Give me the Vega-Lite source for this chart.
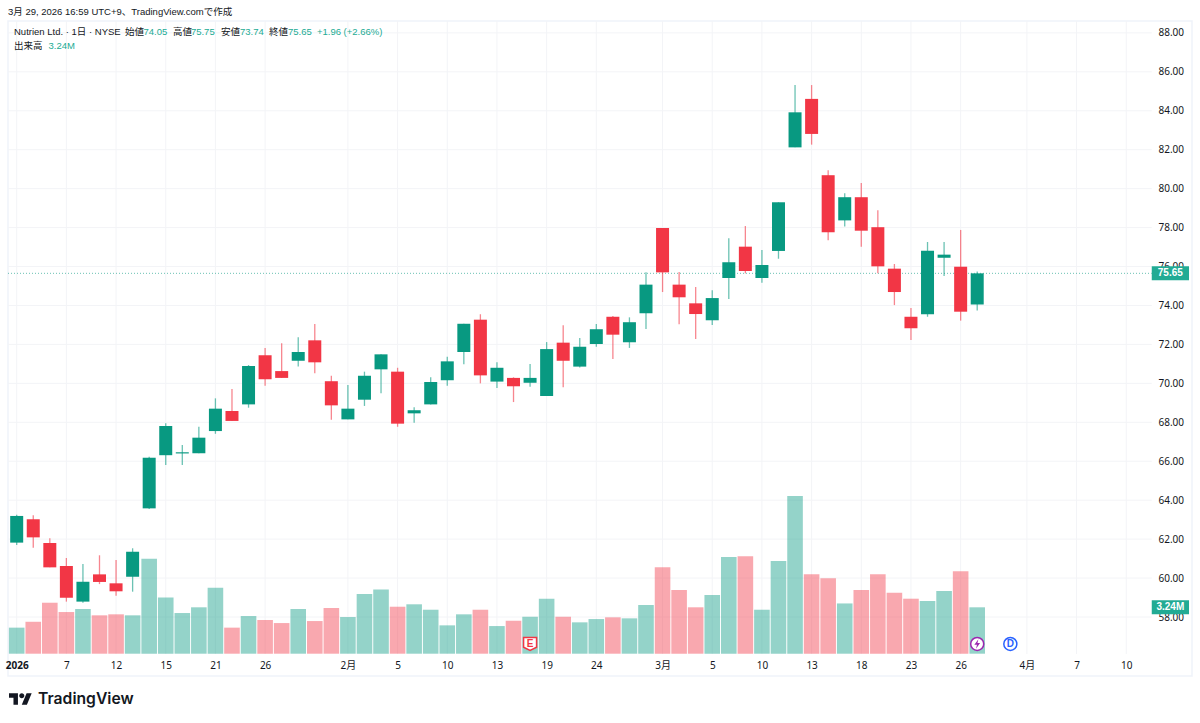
{
  "$schema": "https://vega.github.io/schema/vega-lite/v6.json",
  "autosize": "none",
  "width": 1184,
  "height": 655,
  "padding": {"left": 8, "top": 21, "right": 8, "bottom": 47},
  "background": "#ffffff",
  "config": {
    "font": "Liberation Sans, Noto Sans CJK JP",
    "view": {"stroke": "#f0f3fa", "strokeWidth": 1.5}
  },
  "title": {
    "text": "3月 29, 2026 16:59 UTC+9、TradingView.comで作成",
    "anchor": "start",
    "frame": "group",
    "fontSize": 9.5,
    "fontWeight": "normal",
    "color": "#131722",
    "offset": 4
  },
  "datasets": {
    "candles": [
      {"date": "2026-01-02", "idx": 0, "open": 61.82, "high": 63.25, "low": 61.70, "close": 63.19, "volume": 1.82},
      {"date": "2026-01-05", "idx": 1, "open": 63.02, "high": 63.22, "low": 61.56, "close": 62.09, "volume": 2.23},
      {"date": "2026-01-06", "idx": 2, "open": 61.80, "high": 62.04, "low": 60.55, "close": 60.55, "volume": 3.56},
      {"date": "2026-01-07", "idx": 3, "open": 60.62, "high": 61.03, "low": 58.79, "close": 58.99, "volume": 2.91},
      {"date": "2026-01-08", "idx": 4, "open": 58.79, "high": 60.72, "low": 58.73, "close": 59.81, "volume": 3.12},
      {"date": "2026-01-09", "idx": 5, "open": 60.19, "high": 61.17, "low": 59.69, "close": 59.80, "volume": 2.68},
      {"date": "2026-01-12", "idx": 6, "open": 59.73, "high": 60.93, "low": 59.09, "close": 59.32, "volume": 2.75},
      {"date": "2026-01-13", "idx": 7, "open": 60.07, "high": 61.53, "low": 59.30, "close": 61.35, "volume": 2.68},
      {"date": "2026-01-14", "idx": 8, "open": 63.58, "high": 66.23, "low": 63.55, "close": 66.18, "volume": 6.63},
      {"date": "2026-01-15", "idx": 9, "open": 66.31, "high": 67.95, "low": 65.81, "close": 67.81, "volume": 3.93},
      {"date": "2026-01-16", "idx": 10, "open": 66.40, "high": 66.83, "low": 65.81, "close": 66.46, "volume": 2.84},
      {"date": "2026-01-20", "idx": 11, "open": 66.41, "high": 67.77, "low": 66.41, "close": 67.21, "volume": 3.24},
      {"date": "2026-01-21", "idx": 12, "open": 67.55, "high": 69.23, "low": 67.41, "close": 68.70, "volume": 4.61},
      {"date": "2026-01-22", "idx": 13, "open": 68.58, "high": 69.71, "low": 68.07, "close": 68.07, "volume": 1.82},
      {"date": "2026-01-23", "idx": 14, "open": 68.92, "high": 70.94, "low": 68.75, "close": 70.89, "volume": 2.63},
      {"date": "2026-01-26", "idx": 15, "open": 71.44, "high": 71.82, "low": 69.88, "close": 70.21, "volume": 2.35},
      {"date": "2026-01-27", "idx": 16, "open": 70.63, "high": 72.06, "low": 70.28, "close": 70.28, "volume": 2.14},
      {"date": "2026-01-28", "idx": 17, "open": 71.16, "high": 72.37, "low": 70.86, "close": 71.61, "volume": 3.12},
      {"date": "2026-01-29", "idx": 18, "open": 72.21, "high": 73.05, "low": 70.52, "close": 71.08, "volume": 2.28},
      {"date": "2026-01-30", "idx": 19, "open": 70.11, "high": 70.39, "low": 68.13, "close": 68.87, "volume": 3.19},
      {"date": "2026-02-02", "idx": 20, "open": 68.15, "high": 69.92, "low": 68.15, "close": 68.70, "volume": 2.56},
      {"date": "2026-02-03", "idx": 21, "open": 69.16, "high": 70.60, "low": 68.84, "close": 70.39, "volume": 4.17},
      {"date": "2026-02-04", "idx": 22, "open": 70.72, "high": 71.49, "low": 69.49, "close": 71.49, "volume": 4.49},
      {"date": "2026-02-05", "idx": 23, "open": 70.60, "high": 70.80, "low": 67.77, "close": 67.93, "volume": 3.28},
      {"date": "2026-02-06", "idx": 24, "open": 68.46, "high": 68.77, "low": 67.98, "close": 68.62, "volume": 3.45},
      {"date": "2026-02-09", "idx": 25, "open": 68.92, "high": 70.31, "low": 68.92, "close": 70.07, "volume": 3.07},
      {"date": "2026-02-10", "idx": 26, "open": 70.16, "high": 71.37, "low": 69.88, "close": 71.13, "volume": 1.98},
      {"date": "2026-02-11", "idx": 27, "open": 71.61, "high": 73.06, "low": 70.98, "close": 73.06, "volume": 2.75},
      {"date": "2026-02-12", "idx": 28, "open": 73.27, "high": 73.55, "low": 70.00, "close": 70.41, "volume": 3.07},
      {"date": "2026-02-13", "idx": 29, "open": 70.09, "high": 71.08, "low": 69.76, "close": 70.80, "volume": 1.93},
      {"date": "2026-02-17", "idx": 30, "open": 70.28, "high": 70.31, "low": 69.04, "close": 69.85, "volume": 2.30},
      {"date": "2026-02-18", "idx": 31, "open": 70.03, "high": 70.99, "low": 69.83, "close": 70.28, "volume": 2.58},
      {"date": "2026-02-19", "idx": 32, "open": 69.35, "high": 72.12, "low": 69.35, "close": 71.76, "volume": 3.84},
      {"date": "2026-02-20", "idx": 33, "open": 72.09, "high": 72.98, "low": 69.80, "close": 71.16, "volume": 2.58},
      {"date": "2026-02-23", "idx": 34, "open": 70.86, "high": 72.33, "low": 70.82, "close": 71.88, "volume": 2.19},
      {"date": "2026-02-24", "idx": 35, "open": 72.02, "high": 73.05, "low": 71.88, "close": 72.78, "volume": 2.42},
      {"date": "2026-02-25", "idx": 36, "open": 73.42, "high": 73.46, "low": 71.25, "close": 72.50, "volume": 2.54},
      {"date": "2026-02-26", "idx": 37, "open": 72.11, "high": 73.39, "low": 71.82, "close": 73.14, "volume": 2.47},
      {"date": "2026-02-27", "idx": 38, "open": 73.60, "high": 75.70, "low": 72.79, "close": 75.07, "volume": 3.40},
      {"date": "2026-03-02", "idx": 39, "open": 77.98, "high": 77.98, "low": 74.69, "close": 75.70, "volume": 6.03},
      {"date": "2026-03-03", "idx": 40, "open": 75.07, "high": 75.72, "low": 73.03, "close": 74.42, "volume": 4.45},
      {"date": "2026-03-04", "idx": 41, "open": 74.11, "high": 74.95, "low": 72.28, "close": 73.56, "volume": 3.24},
      {"date": "2026-03-05", "idx": 42, "open": 73.24, "high": 74.78, "low": 73.00, "close": 74.38, "volume": 4.10},
      {"date": "2026-03-06", "idx": 43, "open": 75.41, "high": 77.45, "low": 74.33, "close": 76.22, "volume": 6.75},
      {"date": "2026-03-09", "idx": 44, "open": 77.02, "high": 78.08, "low": 75.65, "close": 75.77, "volume": 6.80},
      {"date": "2026-03-10", "idx": 45, "open": 75.41, "high": 76.85, "low": 75.17, "close": 76.08, "volume": 3.07},
      {"date": "2026-03-11", "idx": 46, "open": 76.80, "high": 79.30, "low": 76.40, "close": 79.30, "volume": 6.47},
      {"date": "2026-03-12", "idx": 47, "open": 82.12, "high": 85.32, "low": 82.12, "close": 83.92, "volume": 11.01},
      {"date": "2026-03-13", "idx": 48, "open": 84.61, "high": 85.32, "low": 82.26, "close": 82.81, "volume": 5.54},
      {"date": "2026-03-16", "idx": 49, "open": 80.69, "high": 80.94, "low": 77.35, "close": 77.76, "volume": 5.26},
      {"date": "2026-03-17", "idx": 50, "open": 78.37, "high": 79.76, "low": 78.05, "close": 79.56, "volume": 3.51},
      {"date": "2026-03-18", "idx": 51, "open": 79.56, "high": 80.29, "low": 77.02, "close": 77.84, "volume": 4.45},
      {"date": "2026-03-19", "idx": 52, "open": 78.02, "high": 78.89, "low": 75.65, "close": 76.01, "volume": 5.54},
      {"date": "2026-03-20", "idx": 53, "open": 75.89, "high": 76.13, "low": 74.02, "close": 74.69, "volume": 4.26},
      {"date": "2026-03-23", "idx": 54, "open": 73.42, "high": 73.87, "low": 72.23, "close": 72.83, "volume": 3.84},
      {"date": "2026-03-24", "idx": 55, "open": 73.55, "high": 77.26, "low": 73.42, "close": 76.81, "volume": 3.68},
      {"date": "2026-03-25", "idx": 56, "open": 76.45, "high": 77.26, "low": 75.51, "close": 76.61, "volume": 4.38},
      {"date": "2026-03-26", "idx": 57, "open": 75.99, "high": 77.88, "low": 73.22, "close": 73.68, "volume": 5.75},
      {"date": "2026-03-27", "idx": 58, "open": 74.05, "high": 75.75, "low": 73.74, "close": 75.65, "volume": 3.24}
    ],
    "priceTicks": [
      {"price": 58}, {"price": 60}, {"price": 62}, {"price": 64}, {"price": 66}, {"price": 68},
      {"price": 70}, {"price": 72}, {"price": 74}, {"price": 76}, {"price": 78}, {"price": 80},
      {"price": 82}, {"price": 84}, {"price": 86}, {"price": 88}
    ],
    "dateTicks": [
      {"idx": 0}, {"idx": 3}, {"idx": 6}, {"idx": 9}, {"idx": 12}, {"idx": 15}, {"idx": 20}, {"idx": 23},
      {"idx": 26}, {"idx": 29}, {"idx": 32}, {"idx": 35}, {"idx": 39}, {"idx": 42}, {"idx": 45}, {"idx": 48},
      {"idx": 51}, {"idx": 54}, {"idx": 57}, {"idx": 61}, {"idx": 64}, {"idx": 67}
    ],
    "last": [{"close": 75.65, "volume": 3.24, "closeText": "75.65", "volumeText": "3.24M"}],
    "events": [{"idx": 31, "label": "E"}, {"idx": 58, "label": ""}, {"idx": 60, "label": "D"}]
  },
  "data": {"name": "candles"},
  "resolve": {"scale": {"y": "independent"}, "axis": {"y": "independent"}},
  "layer": [
    {
      "layer": [
        {
          "data": {"name": "priceTicks"},
          "mark": {"type": "rule", "color": "#f3f4f7", "strokeWidth": 1},
          "encoding": {
            "x": {
              "datum": -0.525,
              "type": "quantitative",
              "scale": {"domain": [-0.525, 70.97], "nice": false, "zero": false, "padding": 0},
              "axis": {
                "title": null,
                "orient": "bottom",
                "offset": -22,
                "grid": false,
                "domain": false,
                "ticks": false,
                "labelPadding": 6,
                "labelFontSize": 10,
                "labelFont": "Noto Sans, Noto Sans CJK JP",
                "labelColor": "#131722",
                "labelBound": false,
                "labelFlush": false,
                "labelOverlap": false,
                "labelFontWeight": {"condition": {"test": "datum.value == 0", "value": "bold"}, "value": "normal"},
                "values": [0, 3, 6, 9, 12, 15, 20, 23, 26, 29, 32, 35, 39, 42, 45, 48, 51, 54, 57, 61, 64, 67],
                "labelExpr": "{'0':'2026','3':'7','6':'12','9':'15','12':'21','15':'26','20':'2月','23':'5','26':'10','29':'13','32':'19','35':'24','39':'3月','42':'5','45':'10','48':'13','51':'18','54':'23','57':'26','61':'4月','64':'7','67':'10'}['' + datum.value]"
              }
            },
            "x2": {"datum": 68.54},
            "y": {
              "field": "price",
              "type": "quantitative",
              "title": null,
              "scale": {"domain": [54.97, 88.61], "nice": false, "zero": false},
              "axis": {
                "orient": "right",
                "grid": false,
                "domain": false,
                "ticks": false,
                "labelAlign": "left",
                "labelPadding": -34,
                "labelFontSize": 10,
                "labelFont": "Noto Sans, Noto Sans CJK JP",
                "labelColor": "#131722",
                "format": ".2f",
                "values": [58, 60, 62, 64, 66, 68, 70, 72, 74, 76, 78, 80, 82, 84, 86, 88]
              }
            }
          }
        },
        {
          "data": {"name": "dateTicks"},
          "mark": {"type": "rule", "color": "#f3f4f7", "strokeWidth": 1},
          "encoding": {
            "x": {"field": "idx", "type": "quantitative"},
            "y": {"datum": 56.1, "type": "quantitative"},
            "y2": {"datum": 88.61}
          }
        }
      ]
    },
    {
      "layer": [
        {
          "mark": {"type": "bar", "orient": "vertical", "width": 15.6, "opacity": 0.43},
          "encoding": {
            "x": {"field": "idx", "type": "quantitative"},
            "y": {
              "field": "volume",
              "type": "quantitative",
              "title": null,
              "axis": null,
              "scale": {"domain": [-1.557, 44.18], "nice": false, "zero": false}
            },
            "y2": {"datum": 0},
            "color": {"condition": {"test": "datum.close >= datum.open", "value": "#089981"}, "value": "#f23645"}
          }
        },
        {
          "data": {"name": "events"},
          "transform": [{"filter": "datum.label == 'E'"}],
          "mark": {"type": "point", "filled": true, "fill": "#ffffff", "stroke": "#f23645", "strokeWidth": 1.5, "opacity": 1, "size": 169, "shape": "M-1,-1L1,-1L1,0.5L0,1L-1,0.5Z"},
          "encoding": {
            "x": {"field": "idx", "type": "quantitative"},
            "y": {"datum": 0.68, "type": "quantitative"}
          }
        },
        {
          "data": {"name": "events"},
          "transform": [{"filter": "datum.label != 'E'"}],
          "mark": {"type": "point", "filled": true, "fill": "#ffffff", "strokeWidth": 1.5, "opacity": 1, "size": 170},
          "encoding": {
            "x": {"field": "idx", "type": "quantitative"},
            "y": {"datum": 0.68, "type": "quantitative"},
            "stroke": {"condition": {"test": "datum.label == 'D'", "value": "#2962ff"}, "value": "#9c27b0"}
          }
        },
        {
          "data": {"name": "events"},
          "transform": [{"filter": "datum.label == ''"}],
          "mark": {"type": "point", "filled": true, "fill": "#9c27b0", "opacity": 1, "size": 90, "shape": "M0.25,-1L-0.6,0.15L-0.05,0.15L-0.25,1L0.6,-0.2L0.05,-0.2Z"},
          "encoding": {
            "x": {"field": "idx", "type": "quantitative"},
            "y": {"datum": 0.68, "type": "quantitative"}
          }
        },
        {
          "data": {"name": "events"},
          "mark": {"type": "text", "fontSize": 10, "fontWeight": "bold"},
          "encoding": {
            "x": {"field": "idx", "type": "quantitative"},
            "y": {"datum": 0.68, "type": "quantitative"},
            "text": {"field": "label"},
            "color": {"condition": {"test": "datum.label == 'E'", "value": "#f23645"}, "value": "#2962ff"}
          }
        },
        {
          "data": {"name": "last"},
          "mark": {"type": "rule", "color": "#22ab94", "strokeWidth": 14},
          "encoding": {
            "x": {"datum": 68.54, "type": "quantitative"},
            "x2": {"datum": 70.79},
            "y": {"field": "volume", "type": "quantitative"}
          }
        },
        {
          "data": {"name": "last"},
          "mark": {"type": "text", "color": "#ffffff", "fontSize": 10, "fontWeight": "bold"},
          "encoding": {
            "x": {"datum": 69.66, "type": "quantitative"},
            "y": {"field": "volume", "type": "quantitative"},
            "text": {"field": "volumeText"}
          }
        }
      ]
    },
    {
      "layer": [
        {
          "data": {"name": "last"},
          "mark": {"type": "rule", "color": "#089981", "strokeWidth": 1, "strokeDash": [1, 2], "opacity": 0.6},
          "encoding": {
            "x": {"datum": -0.525, "type": "quantitative"},
            "x2": {"datum": 68.54},
            "y": {
              "field": "close",
              "type": "quantitative",
              "title": null,
              "axis": null,
              "scale": {"domain": [54.97, 88.61], "nice": false, "zero": false}
            }
          }
        },
        {
          "mark": {"type": "rule", "strokeWidth": 1.3, "opacity": 0.6},
          "encoding": {
            "x": {"field": "idx", "type": "quantitative"},
            "y": {"field": "low", "type": "quantitative"},
            "y2": {"field": "high"},
            "color": {"condition": {"test": "datum.close >= datum.open", "value": "#089981"}, "value": "#f23645"}
          }
        },
        {
          "mark": {"type": "bar", "orient": "vertical", "width": 13},
          "encoding": {
            "x": {"field": "idx", "type": "quantitative"},
            "y": {"field": "open", "type": "quantitative"},
            "y2": {"field": "close"},
            "color": {"condition": {"test": "datum.close >= datum.open", "value": "#089981"}, "value": "#f23645"}
          }
        },
        {
          "data": {"name": "last"},
          "mark": {"type": "rule", "color": "#22ab94", "strokeWidth": 14},
          "encoding": {
            "x": {"datum": 68.54, "type": "quantitative"},
            "x2": {"datum": 70.79},
            "y": {"field": "close", "type": "quantitative"}
          }
        },
        {
          "data": {"name": "last"},
          "mark": {"type": "text", "color": "#ffffff", "fontSize": 10, "fontWeight": "bold"},
          "encoding": {
            "x": {"datum": 69.66, "type": "quantitative"},
            "y": {"field": "close", "type": "quantitative"},
            "text": {"field": "closeText"}
          }
        },
        {
          "data": {"values": [{"text": "Nutrien Ltd. · 1日 · NYSE"}]},
          "mark": {"type": "text", "align": "left", "fontSize": 9.5, "color": "#131722"},
          "encoding": {"x": {"datum": -0.163, "type": "quantitative"}, "y": {"datum": 88.05, "type": "quantitative"}, "text": {"field": "text"}}
        },
        {
          "data": {"values": [{"text": "始値"}]},
          "mark": {"type": "text", "align": "left", "fontSize": 9.5, "color": "#131722"},
          "encoding": {"x": {"datum": 6.54, "type": "quantitative"}, "y": {"datum": 88.05, "type": "quantitative"}, "text": {"field": "text"}}
        },
        {
          "data": {"values": [{"text": "74.05"}]},
          "mark": {"type": "text", "align": "left", "fontSize": 9.5, "color": "#22ab94"},
          "encoding": {"x": {"datum": 7.66, "type": "quantitative"}, "y": {"datum": 88.05, "type": "quantitative"}, "text": {"field": "text"}}
        },
        {
          "data": {"values": [{"text": "高値"}]},
          "mark": {"type": "text", "align": "left", "fontSize": 9.5, "color": "#131722"},
          "encoding": {"x": {"datum": 9.44, "type": "quantitative"}, "y": {"datum": 88.05, "type": "quantitative"}, "text": {"field": "text"}}
        },
        {
          "data": {"values": [{"text": "75.75"}]},
          "mark": {"type": "text", "align": "left", "fontSize": 9.5, "color": "#22ab94"},
          "encoding": {"x": {"datum": 10.52, "type": "quantitative"}, "y": {"datum": 88.05, "type": "quantitative"}, "text": {"field": "text"}}
        },
        {
          "data": {"values": [{"text": "安値"}]},
          "mark": {"type": "text", "align": "left", "fontSize": 9.5, "color": "#131722"},
          "encoding": {"x": {"datum": 12.34, "type": "quantitative"}, "y": {"datum": 88.05, "type": "quantitative"}, "text": {"field": "text"}}
        },
        {
          "data": {"values": [{"text": "73.74"}]},
          "mark": {"type": "text", "align": "left", "fontSize": 9.5, "color": "#22ab94"},
          "encoding": {"x": {"datum": 13.48, "type": "quantitative"}, "y": {"datum": 88.05, "type": "quantitative"}, "text": {"field": "text"}}
        },
        {
          "data": {"values": [{"text": "終値"}]},
          "mark": {"type": "text", "align": "left", "fontSize": 9.5, "color": "#131722"},
          "encoding": {"x": {"datum": 15.23, "type": "quantitative"}, "y": {"datum": 88.05, "type": "quantitative"}, "text": {"field": "text"}}
        },
        {
          "data": {"values": [{"text": "75.65"}]},
          "mark": {"type": "text", "align": "left", "fontSize": 9.5, "color": "#22ab94"},
          "encoding": {"x": {"datum": 16.38, "type": "quantitative"}, "y": {"datum": 88.05, "type": "quantitative"}, "text": {"field": "text"}}
        },
        {
          "data": {"values": [{"text": "+1.96 (+2.66%)"}]},
          "mark": {"type": "text", "align": "left", "fontSize": 9.5, "color": "#22ab94"},
          "encoding": {"x": {"datum": 18.13, "type": "quantitative"}, "y": {"datum": 88.05, "type": "quantitative"}, "text": {"field": "text"}}
        },
        {
          "data": {"values": [{"text": "出来高"}]},
          "mark": {"type": "text", "align": "left", "fontSize": 9.5, "color": "#131722"},
          "encoding": {"x": {"datum": -0.163, "type": "quantitative"}, "y": {"datum": 87.33, "type": "quantitative"}, "text": {"field": "text"}}
        },
        {
          "data": {"values": [{"text": "3.24M"}]},
          "mark": {"type": "text", "align": "left", "fontSize": 9.5, "color": "#22ab94"},
          "encoding": {"x": {"datum": 1.92, "type": "quantitative"}, "y": {"datum": 87.33, "type": "quantitative"}, "text": {"field": "text"}}
        },
        {
          "data": {"values": [{"text": "TradingView"}]},
          "mark": {"type": "text", "align": "left", "fontSize": 15.7, "fontWeight": 600, "font": "Inter", "color": "#131722"},
          "encoding": {"x": {"datum": 1.29, "type": "quantitative"}, "y": {"datum": 53.79, "type": "quantitative"}, "text": {"field": "text"}}
        },
        {
          "data": {"values": [{"text": "logo"}]},
          "mark": {
            "type": "point",
            "filled": true,
            "fill": "#131722",
            "opacity": 1,
            "size": 529,
            "shape": "M-0.222,0.5L-0.611,0.5L-0.611,-0.111L-1,-0.111L-1,-0.5L-0.222,-0.5ZM0.556,0.5L0.111,0.5L0.528,-0.5L0.972,-0.5ZM-0.111,-0.278a0.222,0.222 0 1,0 0.444,0a0.222,0.222 0 1,0 -0.444,0Z"
          },
          "encoding": {"x": {"datum": 0.23, "type": "quantitative"}, "y": {"datum": 53.79, "type": "quantitative"}}
        }
      ]
    }
  ]
}
